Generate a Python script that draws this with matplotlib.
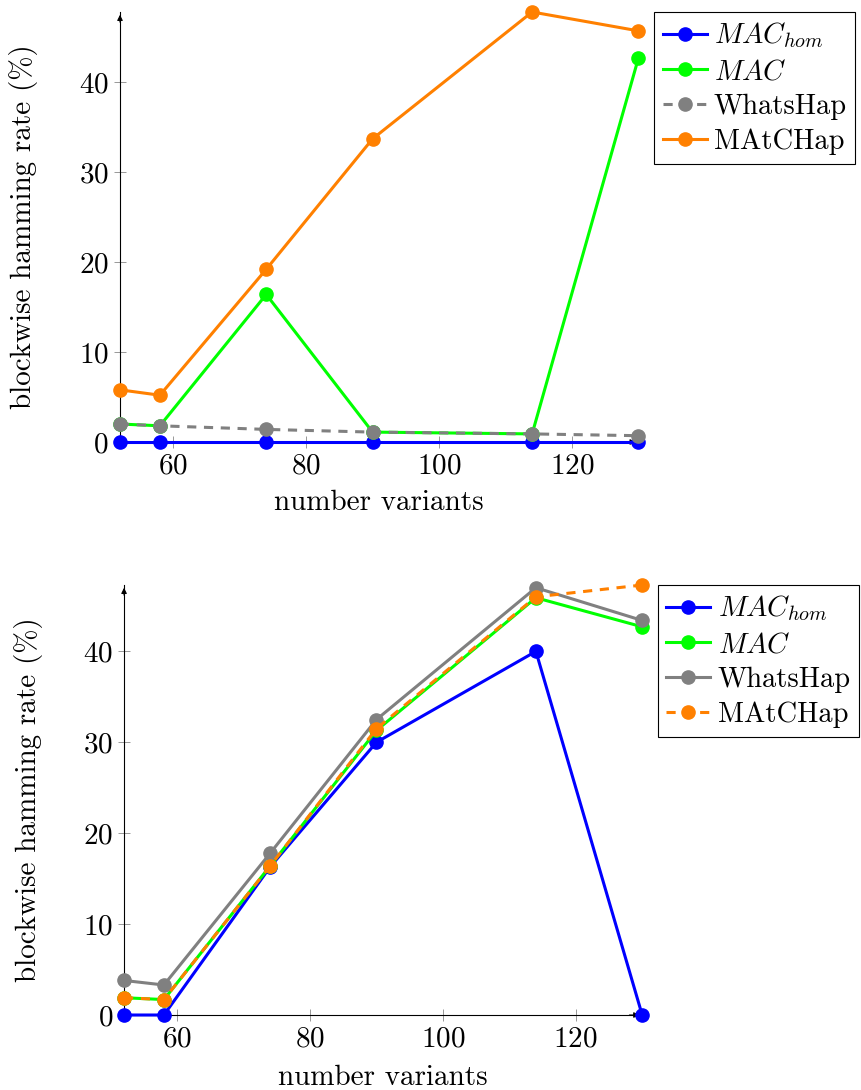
import numpy as np
import matplotlib
matplotlib.use("Agg")
import matplotlib.pyplot as plt

plt.rcParams["font.family"] = ["cmr10", "DejaVu Serif"]
plt.rcParams["mathtext.fontset"] = "cm"
plt.rcParams["axes.formatter.use_mathtext"] = True

# x positions (number of variants)
variants = [52, 58, 74, 90, 114, 130]

# top panel
top_mac_hom = [0, 0, 0, 0, 0, 0]
top_mac = [2.0, 1.8, 16.4, 1.1, 0.9, 42.7]
top_whatshap = [2.0, 1.8, 1.4, 1.1, 0.9, 0.7]
top_matchap = [5.8, 5.2, 19.2, 33.7, 47.8, 45.7]

# bottom panel
bot_mac_hom = [0, 0, 16.3, 30.0, 40.0, 0]
bot_mac = [1.9, 1.7, 16.4, 31.3, 45.9, 42.7]
bot_whatshap = [3.8, 3.3, 17.8, 32.5, 47.0, 43.4]
bot_matchap = [1.9, 1.7, 16.4, 31.5, 46.0, 47.3]

labels = [r"$MAC_{hom}$", r"$MAC$", "WhatsHap", "MAtCHap"]
colors = ["#0000ff", "#00ff00", "#808080", "#ff8000"]
yticks = [0, 10, 20, 30, 40]
xticks = [60, 80, 100, 120]
FS = 21

fig = plt.figure(figsize=(8.62, 10.9), dpi=100)
ax1 = fig.add_axes([0.1392, 0.5945, 0.6015, 0.3945])
ax2 = fig.add_axes([0.1439, 0.0688, 0.6011, 0.3945])


def draw(ax, series, dashed_idx, ylab_x, xlab_y):
    for i, ys in enumerate(series):
        ls = "--" if i == dashed_idx else "-"
        ax.plot(variants, ys, ls, color=colors[i], lw=2.2, marker="o",
                ms=9.5, label=labels[i], clip_on=False, zorder=3,
                dashes=(3, 2.5) if ls == "--" else (None, None))
    allv = np.concatenate([np.asarray(s, float) for s in series])
    ax.set_xlim(min(variants), max(variants))
    ax.set_ylim(0, allv.max())
    for s in ["top", "right"]:
        ax.spines[s].set_visible(False)
    for s in ["left", "bottom"]:
        ax.spines[s].set_linewidth(0.8)
        ax.spines[s].set_color("black")
    # arrow heads on the axis lines
    ax.annotate("", xy=(0, 1.0), xytext=(0, 0.97), xycoords="axes fraction",
                arrowprops=dict(arrowstyle="-|>", color="black", lw=0.8,
                                mutation_scale=8), annotation_clip=False)
    ax.annotate("", xy=(1.0, 0), xytext=(0.97, 0), xycoords="axes fraction",
                arrowprops=dict(arrowstyle="-|>", color="black", lw=0.8,
                                mutation_scale=8), annotation_clip=False,
                zorder=1)
    ax.set_xticks(xticks)
    ax.set_yticks(yticks)
    ax.tick_params(direction="inout", length=8, width=0.6, color="#888888",
                   labelsize=FS, pad=4)
    ax.set_xlabel("number variants", fontsize=FS)
    ax.set_ylabel("blockwise hamming rate (%)", fontsize=FS)
    ax.yaxis.set_label_coords(ylab_x, 0.5)
    ax.xaxis.set_label_coords(0.5, xlab_y)
    leg = ax.legend(loc="upper left", bbox_to_anchor=(1.03, 1.0),
                    fontsize=20.5, frameon=True, fancybox=False,
                    edgecolor="black", framealpha=1, handlelength=1.55,
                    handletextpad=0.25, labelspacing=0.3, borderpad=0.3,
                    borderaxespad=0)
    leg.get_frame().set_linewidth(0.8)


draw(ax1, [top_mac_hom, top_mac, top_whatshap, top_matchap], 2, -0.158, -0.112)
draw(ax2, [bot_mac_hom, bot_mac, bot_whatshap, bot_matchap], 3, -0.156, -0.116)

fig.savefig("out.png", dpi=100)
